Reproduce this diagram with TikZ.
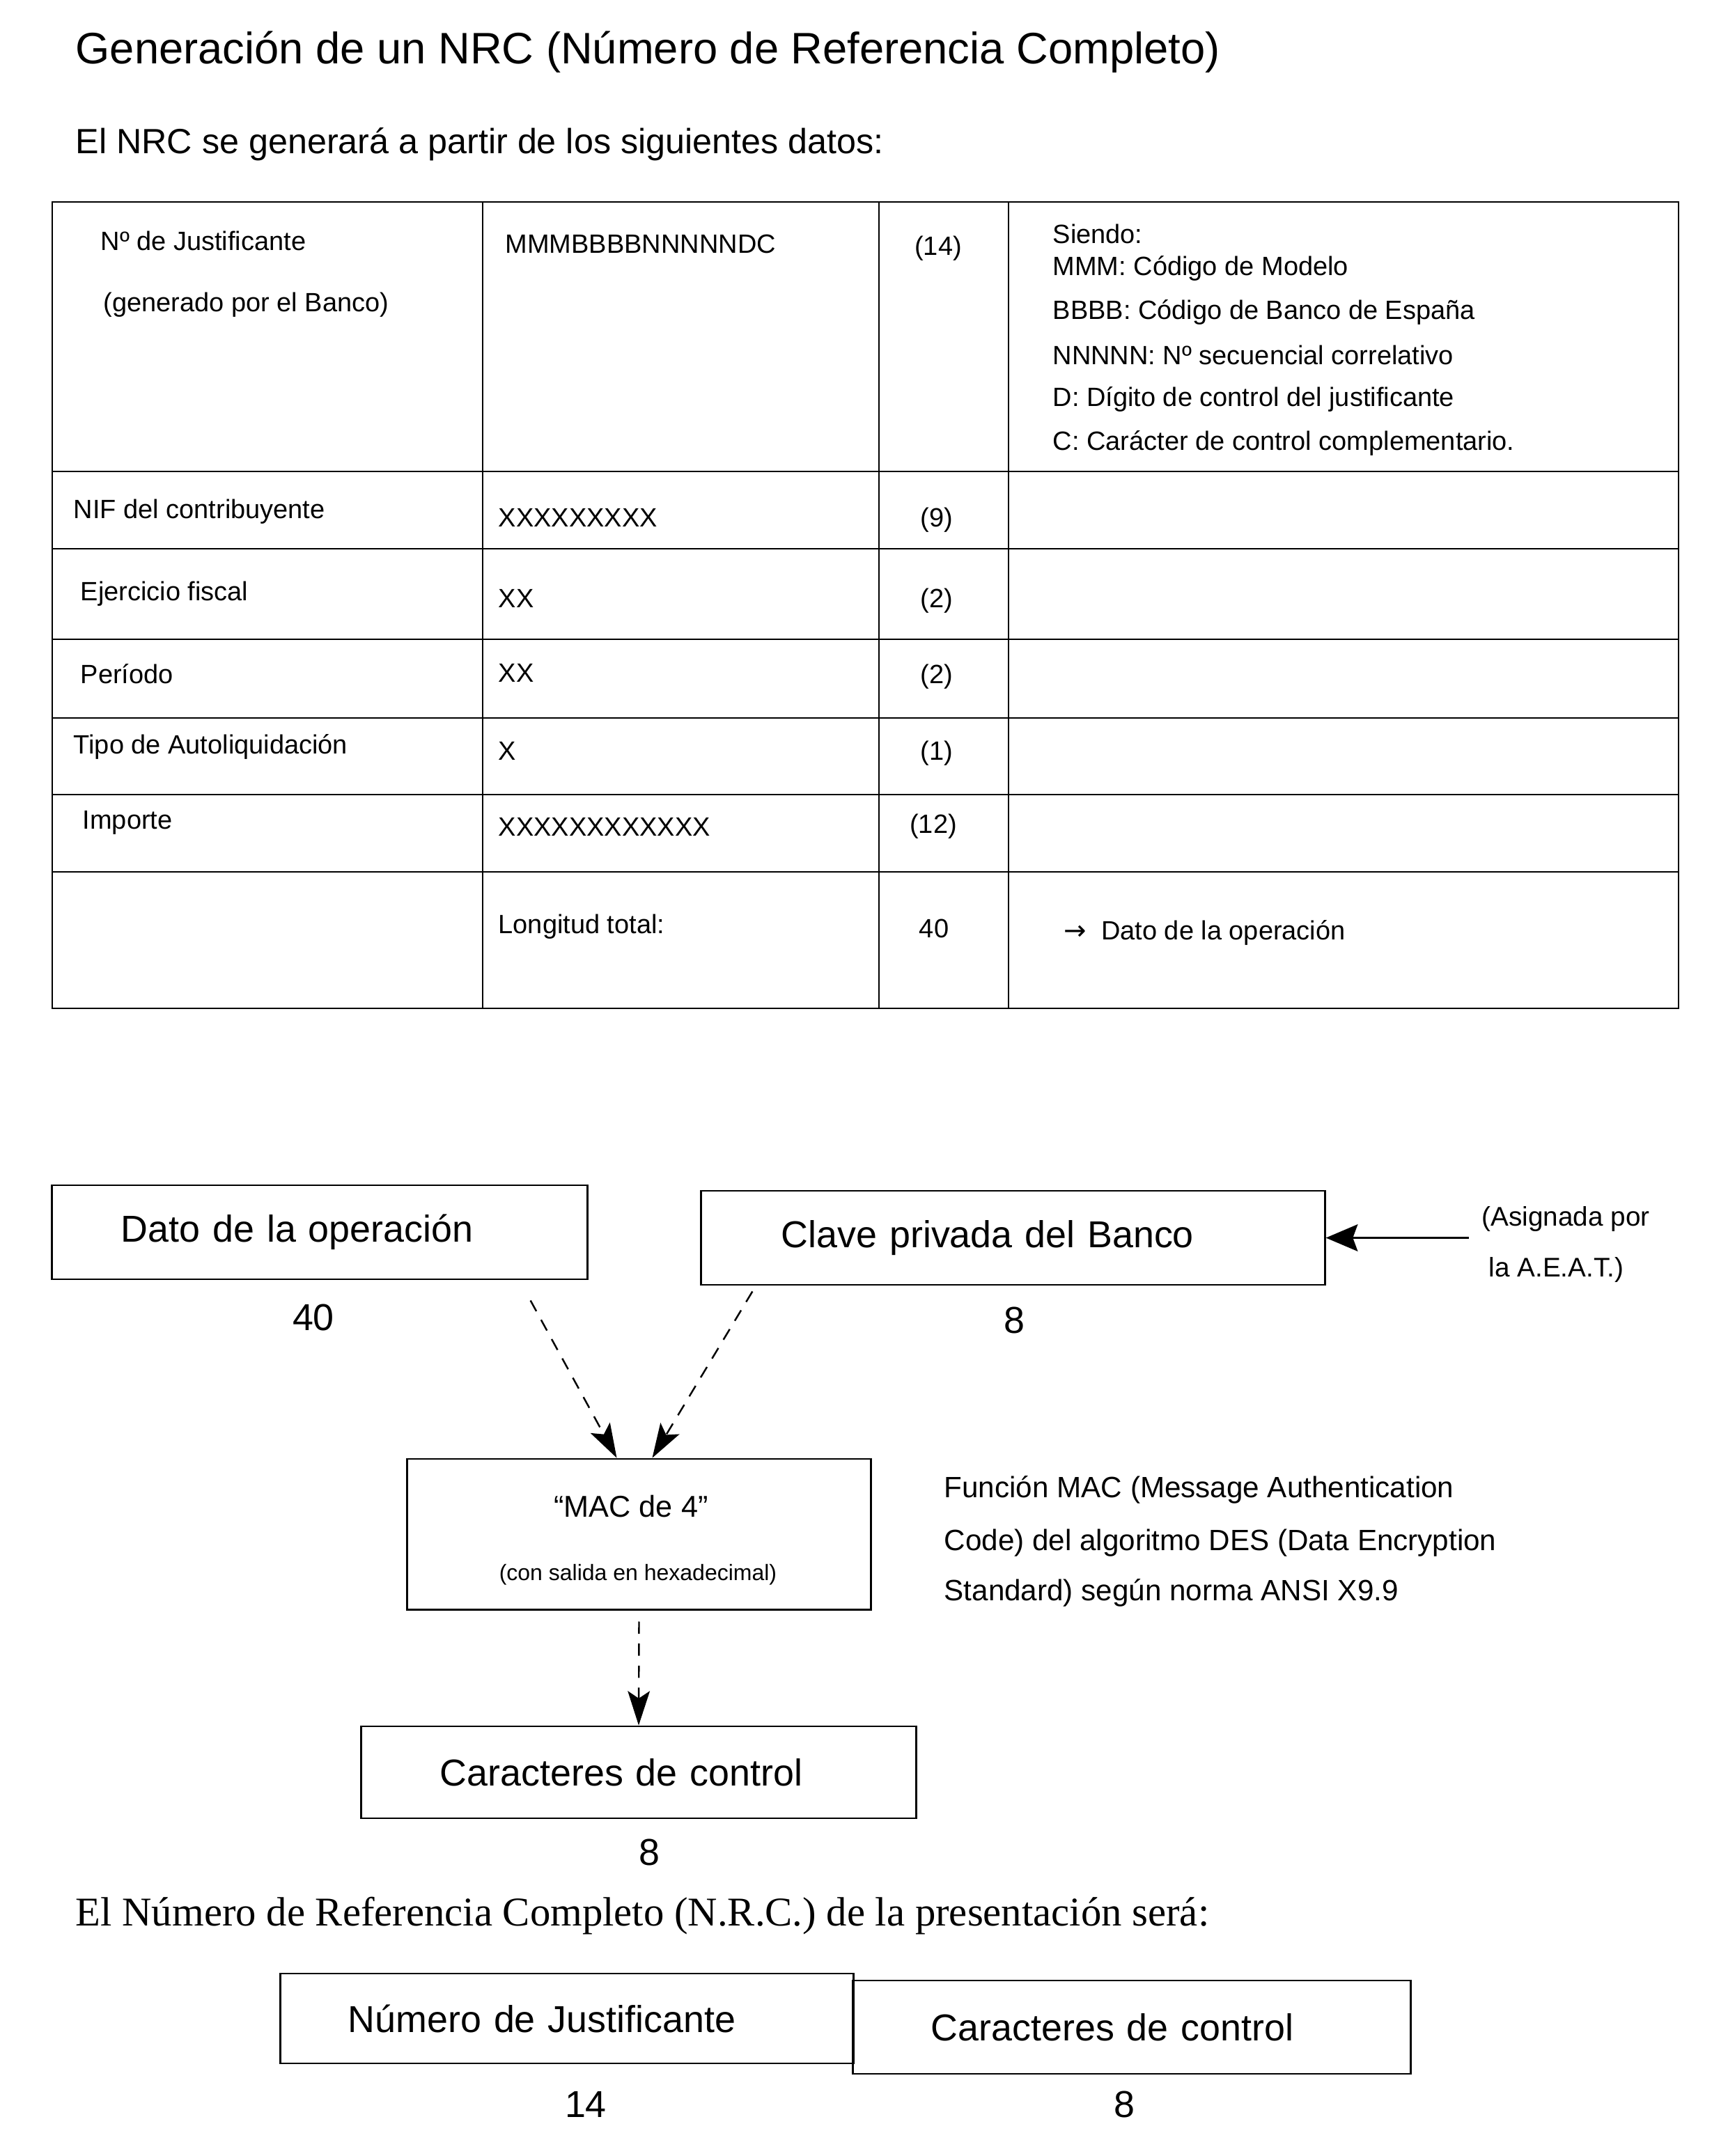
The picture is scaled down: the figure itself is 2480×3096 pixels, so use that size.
\documentclass[tikz,border=0pt]{standalone}
\usepackage{fontspec}
\setmainfont{Liberation Sans}
\newfontfamily\nrcserif{Liberation Serif}
\newfontfamily\nrcsym{DejaVu Sans}
\usetikzlibrary{arrows.meta,calc}
\tikzset{
 tline/.style={line width=0.8pt},
 ttext/.style={anchor=west,inner sep=0pt,font=\fontsize{10.8}{13}\selectfont},
 tnum/.style={anchor=center,inner sep=0pt,font=\fontsize{10.8}{13}\selectfont},
 bigbox/.style={draw,line width=0.8pt,inner ysep=0pt,align=left,font=\fontsize{15.3}{18}\selectfont},
 biglabel/.style={inner sep=0pt,font=\fontsize{15.3}{18}\selectfont},
 sidetext/.style={anchor=west,inner sep=0pt,font=\fontsize{12}{14}\selectfont},
 flow/.style={line width=0.7pt,dash pattern=on 5pt off 4pt,-{Stealth[length=14pt,width=9pt,inset=3pt]}},
 solidarrow/.style={line width=0.7pt,-{Stealth[length=13pt,width=11pt,inset=2pt]}},
}
\begin{document}
\begin{tikzpicture}[x=0.01cm,y=-0.01cm]
\useasboundingbox (0,0) rectangle (2480,3096);

% headings
\node[anchor=west,inner sep=0pt,font=\fontsize{18}{21}\selectfont] (title) at (108,75) {Generación de un NRC (Número de Referencia Completo)};
\node[anchor=west,inner sep=0pt,font=\fontsize{14.3}{17}\selectfont] (sub) at (108,207) {El NRC se generará a partir de los siguientes datos:};

% table grid
\draw[tline] (75,290) rectangle (2410,1448);
\foreach \yy in {677,788,918,1031,1141,1252}
  \draw[tline] (75,\yy) -- (2410,\yy);
\foreach \xx in {693,1262,1448}
  \draw[tline] (\xx,290) -- (\xx,1448);

% row 1
\node[ttext] (j1) at (144,346) {Nº de Justificante};
\node[ttext] (j2) at (148,438) {(generado por el Banco)};
\node[ttext] (j3) at (725,350) {MMMBBBBNNNNNDC};
\node[tnum] (j4) at (1347,357) {(14)};
\node[ttext] (s0) at (1511,336) {Siendo:};
\node[ttext] (s1) at (1511,385) {MMM: Código de Modelo};
\node[ttext] (s2) at (1511,448) {BBBB: Código de Banco de España};
\node[ttext] (s3) at (1511,510) {NNNNN: Nº secuencial correlativo};
\node[ttext] (s4) at (1511,573) {D: Dígito de control del justificante};
\node[ttext] (s5) at (1511,636) {C: Carácter de control complementario.};
% row 2
\node[ttext] (n1) at (105,735) {NIF del contribuyente};
\node[ttext] (n2) at (715,743) {XXXXXXXXX};
\node[tnum] (n3) at (1345,747) {(9)};
% row 3
\node[ttext] (e1) at (115,853) {Ejercicio fiscal};
\node[ttext] (e2) at (715,859) {XX};
\node[tnum] (e3) at (1345,863) {(2)};
% row 4
\node[ttext] (p1) at (115,968) {Período};
\node[ttext] (p2) at (715,966) {XX};
\node[tnum] (p3) at (1345,972) {(2)};
% row 5
\node[ttext] (t1) at (105,1072) {Tipo de Autoliquidación};
\node[ttext] (t2) at (715,1078) {X};
\node[tnum] (t3) at (1345,1082) {(1)};
% row 6
\node[ttext] (i1) at (118,1181) {Importe};
\node[ttext] (i2) at (715,1187) {XXXXXXXXXXXX};
\node[tnum] (i3) at (1340,1187) {(12)};
% row 7
\node[ttext] (l1) at (715,1331) {Longitud total:};
\node[tnum] (l2) at (1341,1333) {40};
\node[ttext] (l3) at (1527,1339) {{\nrcsym\fontsize{11}{13}\selectfont →}\ \ Dato de la operación};

% flow diagram
\node[bigbox,minimum width=7.68cm,minimum height=1.35cm,inner xsep=0.99cm,text width=5.7cm] (dato) at (459,1769.5) {Dato de la operación};
\node[biglabel] (dato40) at (450,1892) {40};
\node[bigbox,minimum width=8.95cm,minimum height=1.35cm,inner xsep=1.15cm,text width=6.65cm] (clave) at (1454.5,1777.5) {Clave privada del Banco};
\node[biglabel] (clave8) at (1456,1896) {8};

\node[anchor=west,inner sep=0pt,font=\fontsize{11}{13}\selectfont] (asg1) at (2127,1750) {(Asignada por};
\node[anchor=west,inner sep=0pt,font=\fontsize{11}{13}\selectfont] (asg2) at (2137,1823) {la A.E.A.T.)};
\coordinate (asg) at (2109,1777.5);
\draw[solidarrow] (asg) -- (clave.east);

\node[draw,line width=0.8pt,minimum width=6.65cm,minimum height=2.16cm] (mac) at (917.5,2203) {};
\node[inner sep=0pt,font=\fontsize{12.3}{15}\selectfont] (macT) at (906,2163) {“MAC de 4”};
\node[inner sep=0pt,font=\fontsize{9.1}{11}\selectfont] (macS) at (916,2261) {(con salida en hexadecimal)};

\draw[flow] ($(dato.south east)+(-83,29)$) -- ($(mac.north)+(-32,0)$);
\draw[flow] ($(clave.south west)+(75,8)$) -- ($(mac.north)+(19,0)$);

\node[sidetext] (f1) at (1355,2139) {Función MAC (Message Authentication};
\node[sidetext] (f2) at (1355,2216) {Code) del algoritmo DES (Data Encryption};
\node[sidetext] (f3) at (1355,2287) {Standard) según norma ANSI X9.9};

\node[bigbox,minimum width=7.96cm,minimum height=1.32cm,inner xsep=1.13cm,text width=5.7cm] (carac) at (917,2545) {Caracteres de control};
\draw[flow] ($(mac.south)+(0,16)$) -- (carac.north);
\node[biglabel] (carac8) at (932,2660) {8};

\node[anchor=west,inner sep=0pt,font=\nrcserif\fontsize{16.7}{20}\selectfont] (nrc) at (108,2751) {El Número de Referencia Completo (N.R.C.) de la presentación será:};

\node[bigbox,minimum width=8.22cm,minimum height=1.29cm,inner xsep=0.97cm,text width=6.28cm] (nj) at (814,2898.5) {Número de Justificante};
\node[bigbox,minimum width=8.0cm,minimum height=1.34cm,inner xsep=1.12cm,text width=5.76cm] (cc) at (1625,2911) {Caracteres de control};
\node[biglabel] (nj14) at (841,3022) {14};
\node[biglabel] (cc8) at (1614,3022) {8};
\end{tikzpicture}
\end{document}
